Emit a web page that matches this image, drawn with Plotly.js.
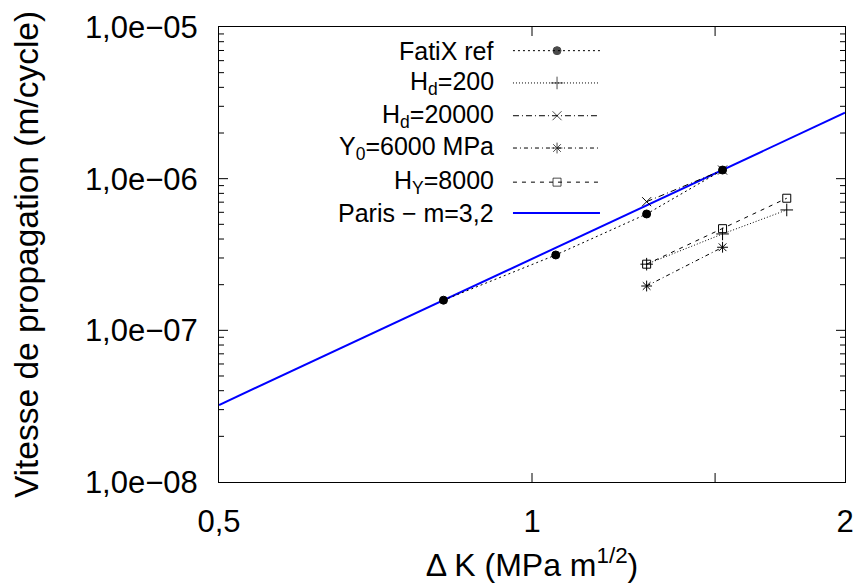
<!DOCTYPE html>
<html>
<head>
<meta charset="utf-8">
<script src="https://cdn.plot.ly/plotly-3.0.1.min.js"></script>
<style>html,body{margin:0;padding:0;background:#fff;}#chart{width:856px;height:583px;}</style>
</head>
<body>
<div id="chart"></div>
<script>
// ---- data ----
const fatixX = [0.822, 1.054, 1.289, 1.525];
const fatixY = [1.58e-7, 3.14e-7, 5.85e-7, 1.14e-6];

const hd200X = [1.289, 1.525, 1.758];
const hd200Y = [2.73e-7, 4.32e-7, 6.22e-7];

const hd20000X = [1.289, 1.525];
const hd20000Y = [7.05e-7, 1.14e-6];

const y0X = [1.289, 1.525];
const y0Y = [1.96e-7, 3.53e-7];

const hyX = [1.289, 1.525, 1.758];
const hyY = [2.73e-7, 4.68e-7, 7.43e-7];

const parisX = [0.5, 2.0];
const parisY = [3.22e-8, 2.72e-6];

const seriesNames = ['FatiX ref', 'H<sub>d</sub>=200', 'H<sub>d</sub>=20000',
                     'Y<sub>0</sub>=6000 MPa', 'H<sub>Y</sub>=8000', 'Paris \u2212 m=3,2'];

const xTickVals = [0.5, 1, 2];
const xTickText = ['0,5', '1', '2'];
const xMinorVals = [1.5];
const yTickVals = [1e-8, 1e-7, 1e-6, 1e-5];
const yTickText = ['1,0e\u221208', '1,0e\u221207', '1,0e\u221206', '1,0e\u221205'];
const yMinorMantissas = [2, 3, 4, 5, 6, 7, 8, 9];
const yDecades = [1e-8, 1e-7, 1e-6];

// ---- styles ----
const styles = [
  {dash: '2px,3px', symbol: 'circle', size: 8, color: '#000'},
  {dash: '1px,2px', symbol: 'cross-thin', size: 9, color: '#000'},
  {dash: '6px,3px,1px,3px', symbol: 'x-thin', size: 9, color: '#000'},
  {dash: '4px,3px,1px,3px', symbol: 'asterisk', size: 9, color: '#000'},
  {dash: '4px,5px', symbol: 'square-open', size: 8, color: '#000'},
];

const dataSets = [
  [fatixX, fatixY], [hd200X, hd200Y], [hd20000X, hd20000Y], [y0X, y0Y], [hyX, hyY]
];

const traces = [];
traces.push({
  x: parisX, y: parisY, mode: 'lines', type: 'scatter',
  line: {color: '#0000ff', width: 2}, showlegend: false, hoverinfo: 'skip'
});
dataSets.forEach((d, i) => {
  const s = styles[i];
  traces.push({
    x: d[0], y: d[1], mode: 'lines+markers', type: 'scatter',
    line: {color: s.color, width: 1, dash: s.dash},
    marker: {symbol: s.symbol, size: s.size, color: s.color,
             line: {color: s.color, width: 1}},
    showlegend: false, hoverinfo: 'skip'
  });
});

// ---- custom legend (text left, sample right); positions given as plot-area fractions ----
const xRangeLog = [Math.log10(0.5), Math.log10(2)];
const yRangeLog = [-8, -5];
const fx = f => Math.pow(10, xRangeLog[0] + f * (xRangeLog[1] - xRangeLog[0]));
const fy = f => Math.pow(10, yRangeLog[0] + f * (yRangeLog[1] - yRangeLog[0]));
const legX0 = 0.4696, legXm = 0.54, legX1 = 0.6086;
const legRows = [0.948, 0.877, 0.805, 0.734, 0.659, 0.591];
const annotations = [];
seriesNames.forEach((name, i) => {
  const yf = fy(legRows[i]);
  if (i < 5) {
    const s = styles[i];
    traces.push({
      x: [fx(legX0), fx(legXm), fx(legX1)], y: [yf, yf, yf],
      mode: 'lines+markers', type: 'scatter',
      line: {color: s.color, width: 1, dash: s.dash},
      marker: {symbol: s.symbol, size: [0, s.size, 0], color: s.color,
               line: {color: s.color, width: 1}},
      showlegend: false, hoverinfo: 'skip'
    });
  } else {
    traces.push({
      x: [fx(legX0), fx(legX1)], y: [yf, yf],
      mode: 'lines', type: 'scatter',
      line: {color: '#0000ff', width: 2},
      showlegend: false, hoverinfo: 'skip'
    });
  }
  annotations.push({
    xref: 'paper', yref: 'paper', x: 0.442, y: legRows[i], xanchor: 'right', yanchor: 'middle',
    text: name, showarrow: false,
    font: {family: 'Liberation Sans, Arial, sans-serif', size: 25, color: '#000'}
  });
});

const yMinorVals = [];
yDecades.forEach(d => yMinorMantissas.forEach(m => yMinorVals.push(m * d)));

// ---- inside tick marks on all four sides, placed through the axes' own scales ----
const tickStyle = {color: '#000', width: 1};
const shapes = [];
const xInner = v => v > 0.5 && v < 2;
const yInner = v => v > 1e-8 && v < 1e-5;
const xTickMarks = xTickVals.filter(xInner).concat(xMinorVals);
xTickMarks.forEach(v => {
  shapes.push({type: 'line', xref: 'x', yref: 'paper', ysizemode: 'pixel', yanchor: 0,
               x0: v, x1: v, y0: 0, y1: 9, line: tickStyle});
  shapes.push({type: 'line', xref: 'x', yref: 'paper', ysizemode: 'pixel', yanchor: 1,
               x0: v, x1: v, y0: 0, y1: -9, line: tickStyle});
});
const yTickMarks = yTickVals.filter(yInner).map(v => [v, 9])
  .concat(yMinorVals.map(v => [v, 5]));
yTickMarks.forEach(([v, len]) => {
  shapes.push({type: 'line', xref: 'paper', yref: 'y', xsizemode: 'pixel', xanchor: 0,
               x0: 0, x1: len, y0: v, y1: v, line: tickStyle});
  shapes.push({type: 'line', xref: 'paper', yref: 'y', xsizemode: 'pixel', xanchor: 1,
               x0: 0, x1: -len, y0: v, y1: v, line: tickStyle});
});

const fontFam = 'Liberation Sans, Arial, sans-serif';
const hidden = 'rgba(0,0,0,0)';
const layout = {
  width: 856, height: 583,
  margin: {l: 219, r: 11, t: 27, b: 101},
  paper_bgcolor: '#fff', plot_bgcolor: '#fff',
  showlegend: false,
  font: {family: fontFam, size: 31, color: '#000'},
  xaxis: {
    type: 'log', range: xRangeLog,
    tickmode: 'array', tickvals: xTickVals, ticktext: xTickText,
    ticks: 'inside', ticklen: 9, tickwidth: 1, tickcolor: hidden,
    showline: true, linecolor: '#000', mirror: true,
    showgrid: false, zeroline: false,
    tickfont: {family: fontFam, size: 31, color: '#000'},
    ticklabelstandoff: 12,
    title: {text: '\u0394 K (MPa m<sup>1/2</sup>)', font: {family: fontFam, size: 32, color: '#000'}, standoff: 15},
    automargin: false
  },
  yaxis: {
    type: 'log', range: yRangeLog,
    tickmode: 'array', tickvals: yTickVals, ticktext: yTickText,
    ticks: 'inside', ticklen: 9, tickwidth: 1, tickcolor: hidden,
    showline: true, linecolor: '#000', mirror: true,
    showgrid: false, zeroline: false,
    tickfont: {family: fontFam, size: 31, color: '#000'},
    ticklabelstandoff: 14,
    title: {text: 'Vitesse de propagation (m/cycle)', font: {family: fontFam, size: 33.5, color: '#000'}, standoff: 36},
    automargin: false
  },
  shapes: shapes,
  annotations: annotations
};

Plotly.newPlot('chart', traces, layout, {displayModeBar: false, staticPlot: true});
</script>
</body>
</html>
